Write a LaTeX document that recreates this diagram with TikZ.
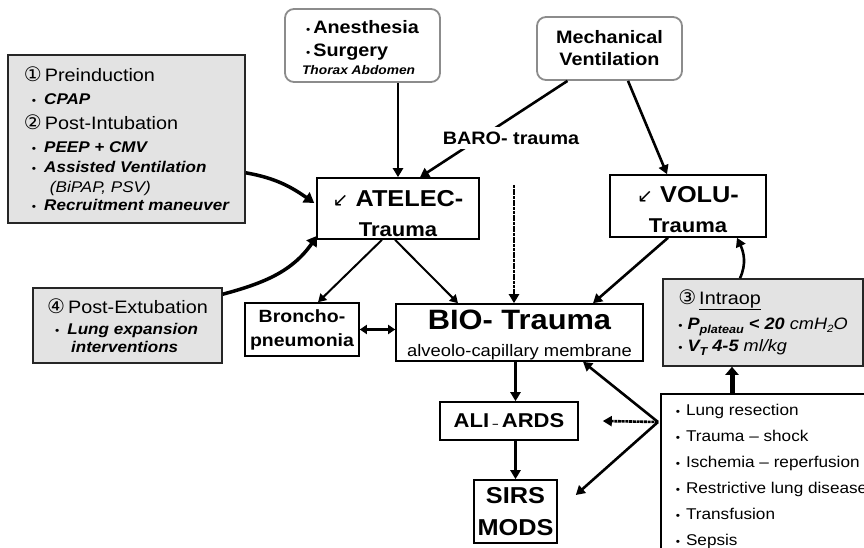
\documentclass[tikz,border=0pt]{standalone}
\usepackage{fontspec}
\setmainfont{Liberation Sans}[FakeStretch=1.1]
\newfontfamily\symfont{DejaVu Sans}
\usetikzlibrary{arrows.meta,calc}

\tikzset{
  plainbox/.style={draw=black, line width=1.6pt, fill=white, inner sep=0pt, align=center},
  notebox/.style={draw=black!85, line width=1.6pt, fill=black!11, inner sep=0pt, align=left,
    font=\fontsize{15.5}{20}\selectfont\bfseries\itshape},
  causebox/.style={draw=black!45, line width=1.8pt, rounded corners=9pt, fill=white, inner sep=0pt},
  arr/.style={line width=2.6pt, -{Triangle[length=9pt,width=10pt]}},
  thinarr/.style={line width=2pt, -{Triangle[length=8pt,width=9pt]}},
  dotarr/.style={arr, dash pattern=on 3pt off 0.7pt},
  curvarr/.style={line width=3.5pt, -{Triangle[length=10pt,width=12pt]}},
  bigarr/.style={line width=5pt, -{Triangle[length=8pt,width=13pt]}},
}
\newcommand\headfont{\fontsize{18}{20}\selectfont\mdseries\upshape}
\newcommand\circnum[1]{{\symfont\fontsize{20}{20}\selectfont #1}}
\newcommand\bul{{\mdseries\upshape\fontsize{11}{11}\selectfont\textbullet}}
\newcommand\dnarrow{{\mdseries\symfont\fontsize{19}{19}\selectfont ↙}}

\begin{document}
\begin{tikzpicture}[x=1pt, y=1pt]
\useasboundingbox (0,0) rectangle (864,548);
\clip (0,0) rectangle (864,548);

% prevention boxes
\node[notebox, minimum width=237pt, minimum height=168pt] (pre) at (126.5,409) {%
  \headfont\circnum{①}\,Preinduction\\[3pt]
  \hspace*{8pt}\bul\hspace{8pt}CPAP\\[5pt]
  \headfont\circnum{②}\,Post-Intubation\\[3pt]
  \hspace*{8pt}\bul\hspace{8pt}PEEP + CMV\\
  \hspace*{8pt}\bul\hspace{8pt}Assisted Ventilation\\
  \hspace*{26pt}\mdseries (BiPAP, PSV)\\[-2pt]
  \hspace*{8pt}\bul\hspace{8pt}Recruitment maneuver};
\node[notebox, minimum width=189pt, minimum height=75pt] (post) at (127.5,222.5) {%
  \headfont\circnum{④}\,Post-Extubation\\[1pt]
  \hspace*{8pt}\bul\hspace{8pt}Lung expansion\\[-2pt]
  \hspace*{24pt}interventions};
\node[notebox, font=\fontsize{16.5}{20}\selectfont\bfseries\itshape, minimum width=200pt, minimum height=87pt] (intraop) at (763,225.5) {%
  \headfont\circnum{③}\,\underline{Intraop}\\[5pt]
  \bul\hspace{5pt}P\raisebox{-4pt}{\fontsize{11.5}{11}\selectfont plateau} < 20 {\mdseries cmH\raisebox{-3pt}{\fontsize{10.5}{10}\selectfont 2}O}\\[2pt]
  \bul\hspace{5pt}V\raisebox{-4pt}{\fontsize{11.5}{11}\selectfont T}\hspace{5pt}4-5 {\mdseries ml/kg}};

% causes
\node[causebox, align=left, font=\bfseries\fontsize{18}{23}\selectfont, minimum width=155pt, minimum height=73pt] (anes) at (362.5,502.5) {%
  \rule{0pt}{17pt}\bul\,Anesthesia\\
  \bul\,Surgery\\[-5pt]
  \hspace*{-4pt}\fontsize{12.5}{15}\selectfont\itshape Thorax Abdomen};
\node[causebox, align=center, font=\bfseries\fontsize{18}{22}\selectfont, minimum width=145pt, minimum height=63pt] (mech) at (609.5,499.5) {Mechanical\\Ventilation};

% trauma boxes
\node[plainbox, font=\bfseries\fontsize{23}{30}\selectfont, minimum width=162pt, minimum height=61pt] (atelec) at (398,339.5) {\rule{0pt}{26pt}\dnarrow\ ATELEC-\\ \fontsize{20}{28}\selectfont Trauma};
\node[plainbox, font=\bfseries\fontsize{23}{30}\selectfont, minimum width=156pt, minimum height=62pt] (volu) at (688,342) {\rule{0pt}{24pt}\dnarrow\ VOLU-\\ \fontsize{20}{28}\selectfont Trauma};
\node[plainbox, font=\bfseries\fontsize{28}{27}\selectfont, minimum width=247pt, minimum height=57pt] (bio) at (519.5,215.5) {\rule{0pt}{24pt}BIO- Trauma\\ \fontsize{16.7}{27}\selectfont\mdseries alveolo-capillary membrane};
\node[plainbox, font=\bfseries\fontsize{17.7}{24}\selectfont, minimum width=114pt, minimum height=53pt] (broncho) at (302,218.5) {Broncho-\\pneumonia};
\node[plainbox, font=\bfseries\fontsize{20}{24}\selectfont, minimum width=138pt, minimum height=38pt] (ali) at (509,127) {ALI\,{\fontsize{10}{10}\selectfont –}\,ARDS};
\node[plainbox, font=\bfseries\fontsize{23}{32}\selectfont, minimum width=83pt, minimum height=63pt] (sirs) at (515.5,36.5) {SIRS\\MODS};

% risk factors
\node[draw=black, line width=1.6pt, fill=white, anchor=north west, align=left, inner xsep=15pt, inner ysep=10pt, font=\fontsize{15.6}{26}\selectfont] (lung) at (660,155) {%
  \bul\hspace{6pt}Lung resection\\
  \bul\hspace{6pt}Trauma -- shock\\
  \bul\hspace{6pt}Ischemia -- reperfusion\\
  \bul\hspace{6pt}Restrictive lung disease\\
  \bul\hspace{6pt}Transfusion\\
  \bul\hspace{6pt}Sepsis};
\coordinate (lungsrc) at ($(lung.north west)+(-2,-29)$);

% arrows
\draw[arr] (anes.south -| atelec.north) -- (atelec.north);
\draw[arr] ($(mech.south)+(-42,0)$) -- ($(atelec.north)+(22,0)$);
\node[fill=white, inner xsep=2pt, inner ysep=5pt, font=\bfseries\fontsize{18}{20}\selectfont] (baro) at (511,410) {BARO- trauma};
\draw[arr] ($(mech.south)+(18.5,0)$) -- ($(volu.north)+(-21,0)$);
\draw[thinarr] ($(atelec.south)+(-16,0)$) -- ($(broncho.north)+(16,0)$);
\draw[thinarr] ($(atelec.south)+(-3,0)$) -- ($(bio.north)+(-61.5,0)$);
\coordinate (dashsrc) at (514,363);
\draw[dotarr] (dashsrc) -- (dashsrc |- bio.north);
\draw[arr] ($(volu.south)+(-20,0)$) -- ($(bio.north)+(73.5,0)$);
\draw[curvarr] ($(pre.south east)+(0,51)$) to[out=-10,in=145] ($(atelec.west)+(-2,5.5)$);
\draw[curvarr] ($(post.north east)+(0,-7)$) to[out=15,in=-125] ($(atelec.south west)+(1,4)$);
\draw[line width=2.2pt, {Triangle[length=7pt,width=9pt]}-{Triangle[length=7pt,width=9pt]}] (broncho.east) -- (broncho.east -| bio.west);
\draw[arr] (bio.south -| sirs.north) -- (ali.north -| sirs.north);
\draw[arr] (ali.south -| sirs.north) -- (sirs.north);
\coordinate (ipfoot) at ($(intraop.south)+(-31,0)$);
\draw[bigarr] (ipfoot |- lung.north) -- (ipfoot);
\draw[arr] ($(intraop.north)+(-23,0)$) to[out=65,in=-65] ($(volu.south)+(49,0)$);
\draw[arr] (lungsrc) -- ($(bio.south)+(63.5,0)$);
\draw[dotarr] (lungsrc) -- ($(ali.east)+(24,0)$);
\draw[arr] (lungsrc) -- ($(sirs.east)+(18,16.5)$);
\end{tikzpicture}
\end{document}
